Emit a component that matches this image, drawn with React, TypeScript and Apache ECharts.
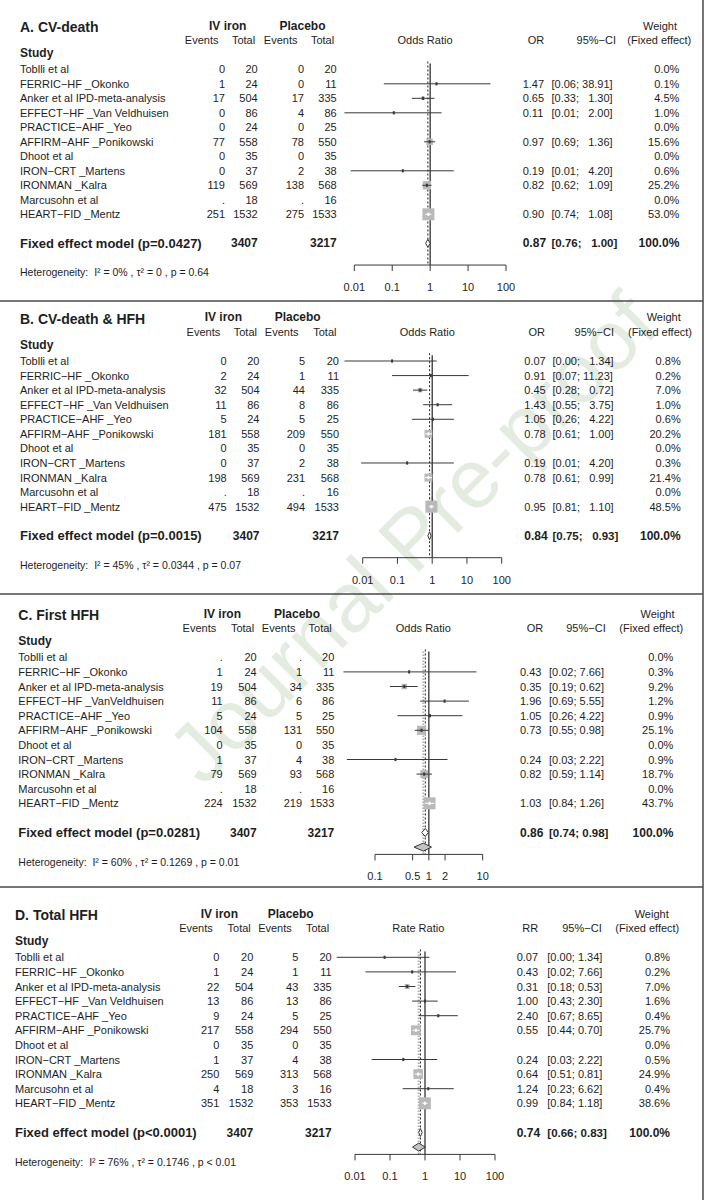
import React, { useEffect, useRef } from "react";
import * as echarts from "echarts";

// ---------- data ----------
const panelTitles = ["A. CV-death", "B. CV-death & HFH", "C. First HFH", "D. Total HFH"];
const measureNames = ["Odds Ratio", "Odds Ratio", "Odds Ratio", "Rate Ratio"];
const measureAbbr = ["OR", "OR", "OR", "RR"];

const studyNames = [
  "Toblli et al", "FERRIC−HF _Okonko", "Anker et al IPD-meta-analysis", "EFFECT−HF _Van Veldhuisen",
  "PRACTICE−AHF _Yeo", "AFFIRM−AHF _Ponikowski", "Dhoot et al", "IRON−CRT _Martens",
  "IRONMAN _Kalra", "Marcusohn et al", "HEART−FID _Mentz",
];
const studyNamesC = [
  "Toblli et al", "FERRIC−HF _Okonko", "Anker et al IPD-meta-analysis", "EFFECT−HF _VanVeldhuisen",
  "PRACTICE−AHF _Yeo", "AFFIRM−AHF _Ponikowski", "Dhoot et al", "IRON−CRT _Martens",
  "IRONMAN _Kalra", "Marcusohn et al", "HEART−FID _Mentz",
];
const ivTotal = [20, 24, 504, 86, 24, 558, 35, 37, 569, 18, 1532];
const plTotal = [20, 11, 335, 86, 25, 550, 35, 38, 568, 16, 1533];
const ivTotalAll = [3407, 3407, 3407, 3407];
const plTotalAll = [3217, 3217, 3217, 3217];

// A. CV-death
const aIvEvents = [0, 1, 17, 0, 0, 77, 0, 0, 119, null, 251];
const aPlEvents = [0, 0, 17, 4, 0, 78, 0, 2, 138, null, 275];
const aEst = [null, 1.47, 0.65, 0.11, null, 0.97, null, 0.19, 0.82, null, 0.9];
const aLo = [null, 0.06, 0.33, 0.0055, null, 0.69, null, 0.008, 0.62, null, 0.74];
const aHi = [null, 38.91, 1.3, 2.0, null, 1.36, null, 4.2, 1.09, null, 1.08];
const aWeight = [0.0, 0.1, 4.5, 1.0, 0.0, 15.6, 0.0, 0.6, 25.2, 0.0, 53.0];

// B. CV-death & HFH
const bIvEvents = [0, 2, 32, 11, 5, 181, 0, 0, 198, null, 475];
const bPlEvents = [5, 1, 44, 8, 5, 209, 0, 2, 231, null, 494];
const bEst = [0.07, 0.91, 0.45, 1.43, 1.05, 0.78, null, 0.19, 0.78, null, 0.95];
const bLo = [0.003, 0.07, 0.28, 0.55, 0.26, 0.61, null, 0.009, 0.61, null, 0.81];
const bHi = [1.34, 11.23, 0.72, 3.75, 4.22, 1.0, null, 4.2, 0.99, null, 1.1];
const bWeight = [0.8, 0.2, 7.0, 1.0, 0.6, 20.2, 0.0, 0.3, 21.4, 0.0, 48.5];

// C. First HFH
const cIvEvents = [null, 1, 19, 11, 5, 104, 0, 1, 79, null, 224];
const cPlEvents = [null, 1, 34, 6, 5, 131, 0, 4, 93, null, 219];
const cEst = [null, 0.43, 0.35, 1.96, 1.05, 0.73, null, 0.24, 0.82, null, 1.03];
const cLo = [null, 0.02, 0.19, 0.69, 0.26, 0.55, null, 0.03, 0.59, null, 0.84];
const cHi = [null, 7.66, 0.62, 5.55, 4.22, 0.98, null, 2.22, 1.14, null, 1.26];
const cWeight = [0.0, 0.3, 9.2, 1.2, 0.9, 25.1, 0.0, 0.9, 18.7, 0.0, 43.7];

// D. Total HFH
const dIvEvents = [0, 1, 22, 13, 9, 217, 0, 1, 250, 4, 351];
const dPlEvents = [5, 1, 43, 13, 5, 294, 0, 4, 313, 3, 353];
const dEst = [0.07, 0.43, 0.31, 1.0, 2.4, 0.55, null, 0.24, 0.64, 1.24, 0.99];
const dLo = [0.003, 0.02, 0.18, 0.43, 0.67, 0.44, null, 0.03, 0.51, 0.23, 0.84];
const dHi = [1.34, 7.66, 0.53, 2.3, 8.65, 0.7, null, 2.22, 0.81, 6.62, 1.18];
const dWeight = [0.8, 0.2, 7.0, 1.6, 0.4, 25.7, 0.0, 0.5, 24.9, 0.4, 38.6];

// pooled
const fixedEst = [0.87, 0.84, 0.86, 0.74];
const fixedLo = [0.76, 0.75, 0.74, 0.66];
const fixedHi = [1.0, 0.93, 0.98, 0.83];
const fixedP = ["p=0.0427", "p=0.0015", "p=0.0281", "p<0.0001"];
const randomEst = [null, null, 0.79, 0.66];
const randomLo = [null, null, 0.53, 0.44];
const randomHi = [null, null, 1.12, 1.02];
const hetI2 = [0, 45, 60, 76];
const hetTau2 = ["0", "0.0344", "0.1269", "0.1746"];
const hetP = ["= 0.64", "= 0.07", "= 0.01", "< 0.01"];
const axisTicks = [
  [0.01, 0.1, 1, 10, 100],
  [0.01, 0.1, 1, 10, 100],
  [0.1, 0.5, 1, 2, 10],
  [0.01, 0.1, 1, 10, 100],
];

const panelNames = [studyNames, studyNames, studyNamesC, studyNames];
const panelIv = [aIvEvents, bIvEvents, cIvEvents, dIvEvents];
const panelPl = [aPlEvents, bPlEvents, cPlEvents, dPlEvents];
const panelEst = [aEst, bEst, cEst, dEst];
const panelLo = [aLo, bLo, cLo, dLo];
const panelHi = [aHi, bHi, cHi, dHi];
const panelW = [aWeight, bWeight, cWeight, dWeight];

// ---------- layout (pixels) ----------
const L = [
  { row0: 69.3, dy: 14.5, nameX: 20, cols: [225, 257.7, 304, 336.7], ivC: 227.7, plC: 302.5, measC: 425, orL: 522.7, ciL: 551.5, wR: 679.3, orHC: 536, ciHR: 616, wHC: 660, feHC: 659.3, xL: 354.3, xR: 506, clip: 0.001 },
  { row0: 361, dy: 14.57, nameX: 20, cols: [226.7, 259.5, 305, 339], ivC: 223.3, plC: 297.7, measC: 427.3, orL: 524.3, ciL: 552.5, wR: 680.7, orHC: 536.7, ciHR: 614, wHC: 663.7, feHC: 660, xL: 362.7, xR: 501.7, clip: 0.001 },
  { row0: 657.3, dy: 14.6, nameX: 18.3, cols: [222.7, 256.7, 302, 334.3], ivC: 222.3, plC: 297, measC: 423.3, orL: 520, ciL: 549, wR: 673.3, orHC: 535, ciHR: 605.7, wHC: 657.5, feHC: 651.3, xL: 375, xR: 482.7, clip: 0.026 },
  { row0: 957.3, dy: 14.6, nameX: 15, cols: [219.3, 253.3, 298.3, 331.7], ivC: 219.3, plC: 290.7, measC: 418.3, orL: 516.7, ciL: 547.3, wR: 670, orHC: 530.3, ciHR: 601.7, wHC: 651.7, feHC: 647.3, xL: 355, xR: 495, clip: 0.001 },
];

const FONT = '"Liberation Sans", Arial, Helvetica, sans-serif';
const TEXT = "#1e1e1e";
const LINE = "#383838";
const SQ = "#b9b9b9";
const MAXSQ = 12;

type Spec = { text: string; x: number; row: number; align: "left" | "right" | "center"; size: number; bold?: boolean };

function fmtCI(lo: number, hi: number, maxHi: number) {
  const pad = hi < 10 && maxHi >= 10 ? "\u00a0\u00a0" : "";
  return `[${lo.toFixed(2)}; ${pad}${hi.toFixed(2)}]`;
}

function buildSpecs(p: number): Spec[] {
  const l = L[p];
  const s: Spec[] = [];
  const est = panelEst[p], lo = panelLo[p], hi = panelHi[p], w = panelW[p];
  const maxHi = Math.max(...(hi.filter((v) => v != null) as number[]));
  s.push({ text: panelTitles[p], x: l.nameX, row: -2.9, align: "left", size: 14, bold: true });
  s.push({ text: "IV iron", x: l.ivC, row: -3, align: "center", size: 12, bold: true });
  s.push({ text: "Placebo", x: l.plC, row: -3, align: "center", size: 12, bold: true });
  s.push({ text: "Events", x: l.cols[0] - 6.5, row: -2, align: "right", size: 11 });
  s.push({ text: "Total", x: l.cols[1] - 2.5, row: -2, align: "right", size: 11 });
  s.push({ text: "Events", x: l.cols[2] - 6.5, row: -2, align: "right", size: 11 });
  s.push({ text: "Total", x: l.cols[3] - 2.5, row: -2, align: "right", size: 11 });
  s.push({ text: "Study", x: l.nameX, row: -1.1, align: "left", size: 12, bold: true });
  s.push({ text: measureNames[p], x: l.measC, row: -2, align: "center", size: 11 });
  s.push({ text: measureAbbr[p], x: l.orHC, row: -2, align: "center", size: 11 });
  s.push({ text: "95%−CI", x: l.ciHR, row: -2, align: "right", size: 11 });
  s.push({ text: "Weight", x: l.wHC, row: -3, align: "center", size: 11 });
  s.push({ text: "(Fixed effect)", x: l.feHC, row: -2, align: "center", size: 11 });
  for (let i = 0; i < panelNames[p].length; i++) {
    const iv = panelIv[p][i], pl = panelPl[p][i];
    s.push({ text: panelNames[p][i], x: l.nameX, row: i, align: "left", size: 11 });
    s.push({ text: iv == null ? "." : String(iv), x: l.cols[0], row: i, align: "right", size: 11 });
    s.push({ text: String(ivTotal[i]), x: l.cols[1], row: i, align: "right", size: 11 });
    s.push({ text: pl == null ? "." : String(pl), x: l.cols[2], row: i, align: "right", size: 11 });
    s.push({ text: String(plTotal[i]), x: l.cols[3], row: i, align: "right", size: 11 });
    if (est[i] != null) {
      s.push({ text: (est[i] as number).toFixed(2), x: l.orL, row: i, align: "left", size: 11 });
      s.push({ text: fmtCI(lo[i] as number, hi[i] as number, maxHi), x: l.ciL, row: i, align: "left", size: 11 });
    }
    s.push({ text: w[i].toFixed(1) + "%", x: l.wR, row: i, align: "right", size: 11 });
  }
  s.push({ text: `Fixed effect model (${fixedP[p]})`, x: l.nameX, row: 12, align: "left", size: 13, bold: true });
  s.push({ text: String(ivTotalAll[p]), x: l.cols[1], row: 12, align: "right", size: 12, bold: true });
  s.push({ text: String(plTotalAll[p]), x: l.cols[3], row: 12, align: "right", size: 12, bold: true });
  s.push({ text: fixedEst[p].toFixed(2), x: l.orL, row: 12, align: "left", size: 12, bold: true });
  s.push({ text: fmtCI(fixedLo[p], fixedHi[p], maxHi), x: l.ciL, row: 12, align: "left", size: 11.5, bold: true });
  s.push({ text: "100.0%", x: l.wR, row: 12, align: "right", size: 12, bold: true });
  s.push({
    text: `Heterogeneity:  I² = ${hetI2[p]}% , τ² = ${hetTau2[p]} , p ${hetP[p]}`,
    x: l.nameX, row: 14, align: "left", size: 10.5,
  });
  return s;
}

function diamond(api: any, est: number, lo: number, hi: number, row: number, fill: string) {
  const [xe, y] = api.coord([est, row]);
  const xl = api.coord([lo, row])[0];
  const xh = api.coord([hi, row])[0];
  return {
    type: "polygon",
    shape: { points: [[xl, y], [xe, y - 4], [xh, y], [xe, y + 4]] },
    style: { fill, stroke: LINE, lineWidth: 1 },
  };
}

function buildOption() {
  const grid: any[] = [], xAxis: any[] = [], yAxis: any[] = [], series: any[] = [];
  for (let p = 0; p < 4; p++) {
    const l = L[p];
    const ticks = axisTicks[p];
    grid.push({ left: l.xL, top: l.row0 - l.dy, width: l.xR - l.xL, height: l.dy * 14.5, containLabel: false });
    xAxis.push({ type: "log", logBase: 10, gridIndex: p, min: ticks[0], max: ticks[ticks.length - 1], show: false });
    yAxis.push({ type: "value", gridIndex: p, min: -1, max: 13.5, inverse: true, show: false });

    // reference lines & pooled diamonds
    series.push({
      type: "custom", xAxisIndex: p, yAxisIndex: p, clip: false, silent: true,
      data: [[1, 12]],
      renderItem: (_params: any, api: any) => {
        const x1 = api.coord([1, 0])[0];
        const yTop = api.coord([1, -0.4])[1];
        const yBot = api.coord([1, 13.5])[1];
        const xf = api.coord([fixedEst[p], 0])[0];
        const children: any[] = [];
        if (randomEst[p] != null) {
          const xr = api.coord([randomEst[p], 0])[0];
          children.push({ type: "line", shape: { x1: xr, y1: yTop, x2: xr, y2: yBot }, style: { stroke: "#b0b0b0", lineWidth: 2, lineDash: [1.5, 1.5] } });
        }
        children.push({ type: "line", shape: { x1: xf, y1: yTop - 2, x2: xf, y2: yBot }, style: { stroke: "#222", lineWidth: 1, lineDash: [2, 2] } });
        children.push({ type: "line", shape: { x1, y1: yTop, x2: x1, y2: yBot }, style: { stroke: "#222", lineWidth: 1.2 } });
        children.push(diamond(api, fixedEst[p], fixedLo[p], fixedHi[p], 12, "#ffffff"));
        if (randomEst[p] != null) {
          children.push(diamond(api, randomEst[p] as number, randomLo[p] as number, randomHi[p] as number, 13, "#c4c4c4"));
        }
        return { type: "group", children };
      },
    });

    // study estimates
    const est = panelEst[p], lo = panelLo[p], hi = panelHi[p], w = panelW[p];
    const idx = est.map((v, i) => (v != null ? i : -1)).filter((i) => i >= 0);
    const maxW = Math.max(...w);
    series.push({
      type: "custom", xAxisIndex: p, yAxisIndex: p, clip: false, silent: true,
      data: idx.map((i) => [est[i], i]),
      renderItem: (params: any, api: any) => {
        const i = idx[params.dataIndex];
        const [xe, y] = api.coord([est[i], i]);
        const x1 = api.coord([Math.max(lo[i] as number, l.clip), i])[0];
        const x2 = api.coord([hi[i], i])[0];
        const s = MAXSQ * Math.sqrt(w[i] / maxW);
        const inside = x2 - x1 < s;
        const inner = inside ? "#ffffff" : LINE;
        return {
          type: "group",
          children: [
            { type: "line", shape: { x1, y1: y, x2, y2: y }, style: { stroke: LINE, lineWidth: 1 } },
            { type: "rect", shape: { x: xe - s / 2, y: y - s / 2, width: s, height: s }, style: { fill: SQ } },
            { type: "line", shape: { x1: Math.max(x1, xe - s / 2), y1: y, x2: Math.min(x2, xe + s / 2), y2: y }, style: { stroke: inner, lineWidth: 1 } },
            { type: "rect", shape: { x: xe - 1, y: y - 1.6, width: 2, height: 3.2 }, style: { fill: inner } },
          ],
        };
      },
    });

    // x axis (drawn on the log scale)
    series.push({
      type: "custom", xAxisIndex: p, yAxisIndex: p, clip: false, silent: true,
      data: ticks.map((t) => [t, 13.5]),
      renderItem: (params: any, api: any) => {
        const t = ticks[params.dataIndex];
        const [x, y] = api.coord([t, 13.5]);
        const ly = api.coord([t, 15])[1];
        const children: any[] = [
          { type: "line", shape: { x1: x, y1: y, x2: x, y2: y + 6 }, style: { stroke: LINE, lineWidth: 1 } },
          { type: "text", x, y: ly, style: { text: String(t), fill: TEXT, fontSize: 11, fontFamily: FONT, align: "center", verticalAlign: "middle" } },
        ];
        if (params.dataIndex === 0) {
          const xEnd = api.coord([ticks[ticks.length - 1], 13.5])[0];
          children.push({ type: "line", shape: { x1: x, y1: y, x2: xEnd, y2: y }, style: { stroke: LINE, lineWidth: 1 } });
        }
        return { type: "group", children };
      },
    });

    // table texts
    const specs = buildSpecs(p);
    series.push({
      type: "custom", xAxisIndex: p, yAxisIndex: p, clip: false, silent: true,
      data: specs.map((s) => [1, s.row]),
      renderItem: (params: any, api: any) => {
        const s = specs[params.dataIndex];
        const y = api.coord([1, s.row])[1];
        return {
          type: "text", x: s.x, y,
          style: {
            text: s.text, fill: TEXT, fontSize: s.size, fontFamily: FONT,
            fontWeight: s.bold ? "bold" : "normal", align: s.align, verticalAlign: "middle",
          },
        };
      },
    });
  }

  const border = { stroke: "#4a4a4a", lineWidth: 1.5 };
  return {
    animation: false,
    backgroundColor: "#ffffff",
    grid, xAxis, yAxis, series,
    graphic: [
      {
        type: "text", x: 412, y: 538, rotation: (45 * Math.PI) / 180, z: 0,
        style: { text: "Journal Pre-proof", fontSize: 84, fontFamily: FONT, fill: "#e4ebe1", align: "center", verticalAlign: "middle" },
      },
      { type: "line", shape: { x1: 0, y1: 301, x2: 703, y2: 301 }, style: border },
      { type: "line", shape: { x1: 0, y1: 594, x2: 703, y2: 594 }, style: border },
      { type: "line", shape: { x1: 0, y1: 887, x2: 703, y2: 887 }, style: border },
      { type: "line", shape: { x1: 703, y1: 0, x2: 703, y2: 1200 }, style: border },
    ],
  };
}

export default function App() {
  const ref = useRef<HTMLDivElement>(null);
  useEffect(() => {
    const chart = echarts.init(ref.current as HTMLDivElement, null, { renderer: "svg", width: 707, height: 1200 });
    chart.setOption(buildOption() as any);
    return () => chart.dispose();
  }, []);
  return (
    <div
      ref={ref}
      style={{ position: "absolute", left: 0, top: 0, width: 707, height: 1200, background: "#ffffff" }}
    />
  );
}
